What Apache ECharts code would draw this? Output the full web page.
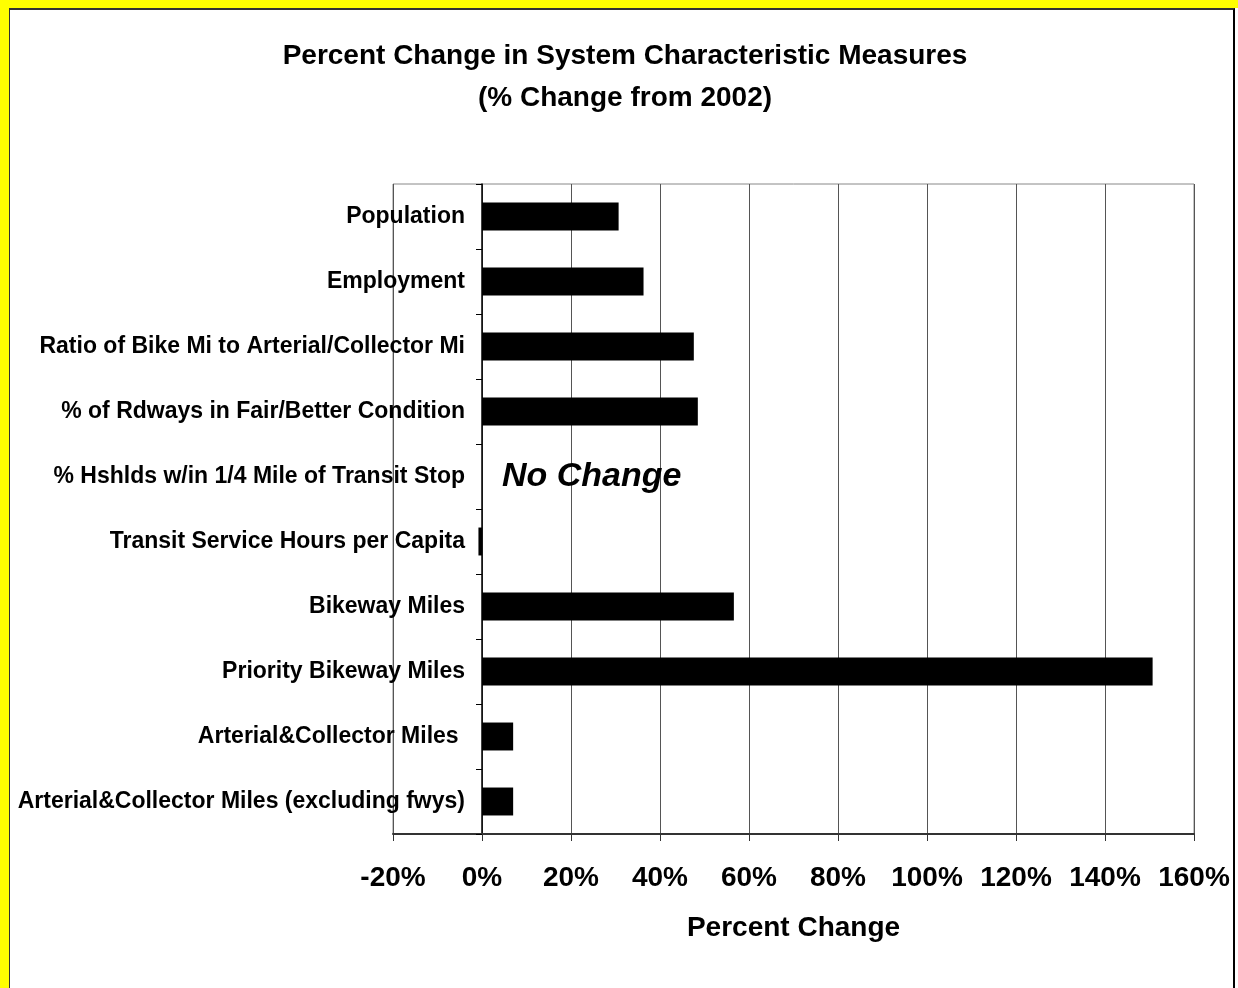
<!DOCTYPE html>
<html>
<head>
<meta charset="utf-8">
<script src="https://cdn.jsdelivr.net/npm/echarts@6/dist/echarts.min.js"></script>
<style>
  html, body { margin: 0; padding: 0; background: #fff; }
  #frame { position: absolute; left: 0; top: 0; width: 1238px; height: 988px; box-sizing: border-box;
           border-left: 9px solid #ffff00; border-top: 8px solid #ffff00; }
  #inner { position: absolute; left: 9px; top: 8px; width: 1226px; height: 990px; box-sizing: border-box;
           border-left: 1px solid #333; border-top: 2px solid #333; border-right: 2px solid #000; }
  #chart { position: absolute; left: 0; top: 0; width: 1238px; height: 988px; }
</style>
</head>
<body>
<div id="frame"></div>
<div id="inner"></div>
<div id="chart"></div>
<script>
  var categories = [
    'Population',
    'Employment',
    'Ratio of Bike Mi to Arterial/Collector Mi',
    '% of Rdways in Fair/Better Condition',
    '% Hshlds w/in 1/4 Mile of Transit Stop',
    'Transit Service Hours per Capita',
    'Bikeway Miles',
    'Priority Bikeway Miles',
    'Arterial&Collector Miles ',
    'Arterial&Collector Miles (excluding fwys)'
  ]
  var pctChange = [30.7, 36.3, 47.6, 48.5, 0, -0.8, 56.6, 150.7, 7.0, 7.0]
  var noChangeIndex = 4
  var noChangeText = 'No Change'

  var font = 'Liberation Sans, Arial, sans-serif'
  var chart = echarts.init(document.getElementById('chart'))

  var barData = []
  for (var i = 0; i < pctChange.length; i++) {
    if (i === noChangeIndex) {
      barData.push({
        value: pctChange[i],
        label: {
          show: true,
          position: 'right',
          distance: 20,
          formatter: noChangeText,
          color: '#000',
          fontFamily: font,
          fontWeight: 'bold',
          fontStyle: 'italic',
          fontSize: 34
        }
      })
    } else {
      barData.push(pctChange[i])
    }
  }

  var option = {
    backgroundColor: 'transparent',
    animation: false,
    title: {
      text: 'Percent Change in System Characteristic Measures\n(% Change from 2002)',
      left: 620,
      top: 30,
      textAlign: 'center',
      textStyle: {
        fontFamily: font,
        fontWeight: 'bold',
        fontSize: 28,
        lineHeight: 42,
        color: '#000'
      }
    },
    grid: {
      left: 393,
      right: 44,
      top: 184,
      bottom: 154,
      outerBoundsMode: 'none',
      containLabel: false,
      show: true,
      borderColor: '#888',
      borderWidth: 1
    },
    xAxis: {
      type: 'value',
      min: -20,
      max: 160,
      interval: 20,
      name: 'Percent Change',
      nameLocation: 'middle',
      nameGap: 80,
      nameTextStyle: {
        fontFamily: font,
        fontWeight: 'bold',
        fontSize: 28,
        color: '#000'
      },
      axisLine: { show: true, lineStyle: { color: '#333', width: 2 } },
      axisTick: { show: true, length: 7, lineStyle: { color: '#333' } },
      axisLabel: {
        margin: 30,
        formatter: '{value}%',
        fontFamily: font,
        fontWeight: 'bold',
        fontSize: 28,
        color: '#000'
      },
      splitLine: { show: true, lineStyle: { color: '#555', width: 1 } }
    },
    yAxis: {
      type: 'category',
      inverse: true,
      data: categories,
      // the category axis sits on the 0% line, one 20% step right of the grid edge
      offset: -89,
      axisLine: { show: true, onZero: false, lineStyle: { color: '#000', width: 1.5 } },
      axisTick: { show: true, length: 6, lineStyle: { color: '#000' } },
      axisLabel: {
        margin: 17,
        fontFamily: font,
        fontWeight: 'bold',
        fontSize: 23,
        color: '#000'
      },
      splitLine: { show: false }
    },
    series: [
      {
        type: 'bar',
        data: barData,
        barWidth: '43%',
        itemStyle: { color: '#000' }
      }
    ]
  }
  chart.setOption(option)
</script>
</body>
</html>
